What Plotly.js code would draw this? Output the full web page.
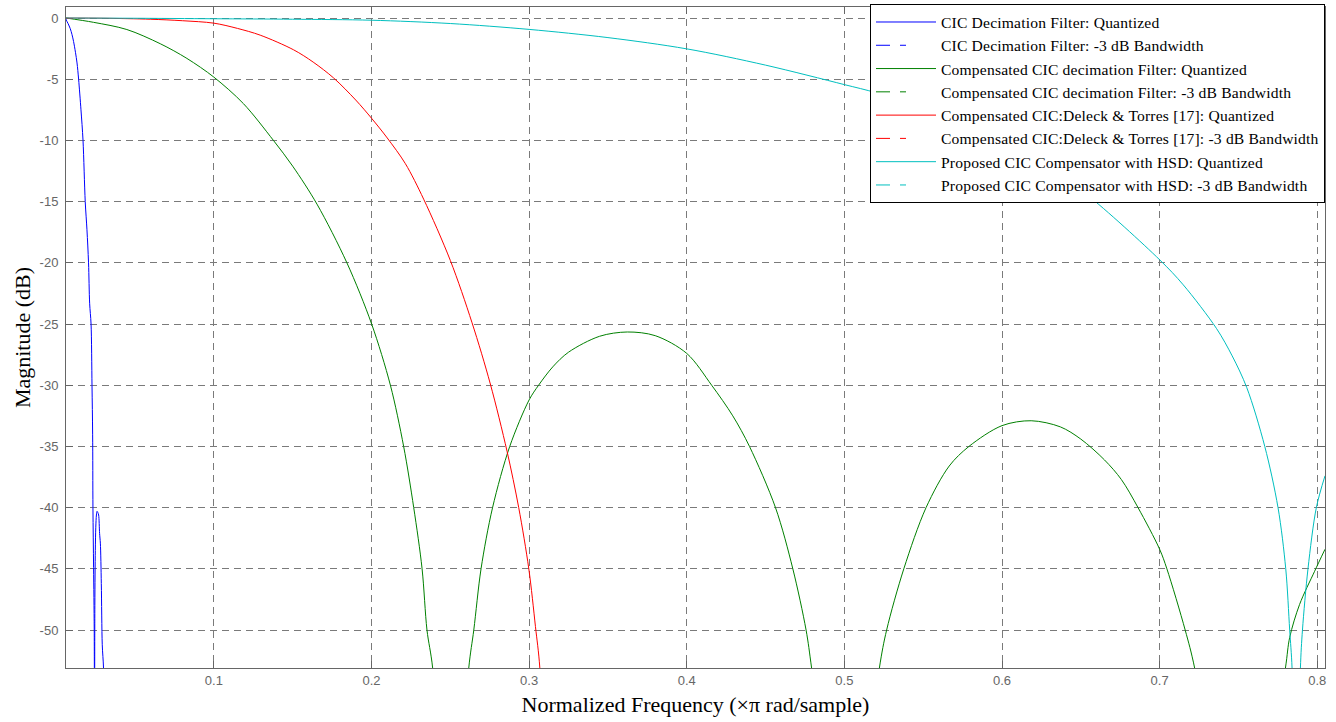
<!DOCTYPE html>
<html>
<head>
<meta charset="utf-8">
<script src="https://cdn.plot.ly/plotly-3.0.1.min.js"></script>
<style>
  html, body { margin: 0; padding: 0; background: #ffffff; }
  #chart { width: 1336px; height: 722px; }
  text.legendtext { letter-spacing: 0.18px; }
</style>
</head>
<body>
<div id="chart"></div>
<script>
// ---- Data ----
// CIC Decimation Filter: Quantized
const cicFreq = [0.0062, 0.0064, 0.0075, 0.0089, 0.0100, 0.0110, 0.0122, 0.0132, 0.0142, 0.0157, 0.0170, 0.0184, 0.0195, 0.0205, 0.0212, 0.0221, 0.0227, 0.0231, 0.0233, 0.0237, 0.0241, 0.0243, 0.0245, 0.0248, 0.0251, 0.0255, 0.0259, 0.0264, 0.0269, 0.0275, 0.0280, 0.0286, 0.0292, 0.0300, 0.0304];
const cicMag  = [0, -0.17, -0.45, -0.87, -1.35, -1.92, -2.8, -3.67, -5, -7.5, -10, -15, -17.3, -20, -23.3, -25, -30, -34, -40, -44.9, -50, -62, -48, -43.5, -41.6, -40.6, -40.3, -40.4, -40.6, -42.1, -42.9, -46.2, -51.2, -53.1, -58];

// Compensated CIC decimation Filter: Quantized
const compFreq = [0.0062, 0.0236, 0.0448, 0.066, 0.0829, 0.1, 0.1188, 0.1378, 0.15, 0.1654, 0.1844, 0.2001, 0.212, 0.2204, 0.2268, 0.2321, 0.2352, 0.2388, 0.25,
  0.2617, 0.2649, 0.2695, 0.2768, 0.2877, 0.3, 0.306, 0.315, 0.325, 0.3447, 0.3623, 0.38, 0.4, 0.4158, 0.4292, 0.4398, 0.4563, 0.4673, 0.4757, 0.4792, 0.501,
  0.5222, 0.5268, 0.5377, 0.5518, 0.5665, 0.579, 0.6, 0.6185, 0.637, 0.65, 0.665, 0.6757, 0.6863, 0.7, 0.7046, 0.7162, 0.7222, 0.751,
  0.7798, 0.7825, 0.7888, 0.7983, 0.8049];
const compMag  = [0, -0.35, -0.94, -2.1, -3.3, -4.83, -7.0, -10, -12.1, -15.2, -20, -25, -30, -35, -40, -45, -50, -53.1, -75,
  -53.1, -50, -45, -40, -35, -31.2, -30, -28.5, -27.3, -26.0, -25.65, -25.95, -27.4, -30, -32.5, -35, -40, -45, -50, -53.1, -75,
  -53.1, -50, -45, -40, -36.6, -35, -33.3, -32.9, -33.4, -34.4, -36.1, -37.7, -40, -43.4, -45, -50, -53.1, -75,
  -53.1, -50.6, -47.9, -45.2, -43.4];

// Compensated CIC: Deleck & Torres [17]: Quantized
const deleckFreq = [0.0062, 0.03, 0.06, 0.08, 0.1, 0.115, 0.1294, 0.1506, 0.163, 0.176, 0.19, 0.2001, 0.21, 0.2215, 0.2331, 0.25, 0.2638, 0.2754, 0.286, 0.2934, 0.2998, 0.304, 0.3068, 0.312];
const deleckMag  = [0, -0.02, -0.1, -0.22, -0.42, -0.85, -1.4, -2.6, -3.6, -4.9, -6.7, -8.2, -9.8, -11.9, -14.8, -19.8, -24.9, -29.9, -35.4, -40, -45, -49.7, -53.1, -70];

// Proposed CIC Compensator with HSD: Quantized
const propFreq = [0.0062, 0.05, 0.1, 0.15, 0.2, 0.25, 0.3, 0.35, 0.4, 0.45, 0.5, 0.52, 0.55, 0.6, 0.63, 0.6536, 0.7, 0.715, 0.736, 0.746, 0.7553, 0.7667, 0.7751, 0.7800, 0.7825, 0.7840, 0.7866, 0.7893, 0.7906, 0.7941, 0.7994, 0.8049];
const propMag  = [0, -0.02, -0.06, -0.1, -0.18, -0.45, -0.93, -1.6, -2.52, -3.85, -5.44, -6.1, -7.4, -10.2, -12.3, -14.4, -19.75, -21.8, -25.35, -27.6, -30.2, -35, -40, -45, -50, -53.1, -70, -53.1, -50, -45, -40, -37.4];

// -3 dB bandwidth series (no mark visible inside the plotted window)
const cicBw3dB    = [null];
const compBw3dB   = [null];
const deleckBw3dB = [null];
const propBw3dB   = [null];

// Tick labels
const xTickVals = [0.1, 0.2, 0.3, 0.4, 0.5, 0.6, 0.7, 0.8];
const xTickText = ['0.1', '0.2', '0.3', '0.4', '0.5', '0.6', '0.7', '0.8'];
const yTickVals = [0, -5, -10, -15, -20, -25, -30, -35, -40, -45, -50];
const yTickText = ['0', '-5', '-10', '-15', '-20', '-25', '-30', '-35', '-40', '-45', '-50'];

const names = [
  'CIC Decimation Filter: Quantized',
  'CIC Decimation Filter: -3 dB Bandwidth',
  'Compensated CIC decimation Filter: Quantized',
  'Compensated CIC decimation Filter: -3 dB Bandwidth',
  'Compensated CIC:Deleck &amp; Torres [17]: Quantized',
  'Compensated CIC:Deleck &amp; Torres [17]: -3 dB Bandwidth',
  'Proposed CIC Compensator with HSD: Quantized',
  'Proposed CIC Compensator with HSD: -3 dB Bandwidth'
];

const BLUE = '#0000ff', GREEN = '#008000', RED = '#ff0000', CYAN = '#00bfbf';
const DASH = '14px,10px,6px,100px';

function tr(x, y, name, color, dash, g) {
  return {
    type: 'scatter', mode: 'lines', x: x, y: y, name: name,
    legendgroup: 'g' + g,
    line: { color: color, width: 1, dash: dash, shape: 'spline', smoothing: 0.9 },
    hoverinfo: 'skip', cliponaxis: true
  };
}

const data = [
  tr(cicFreq, cicMag, names[0], BLUE, 'solid', 0),
  tr(cicBw3dB, cicBw3dB, names[1], BLUE, DASH, 1),
  tr(compFreq, compMag, names[2], GREEN, 'solid', 2),
  tr(compBw3dB, compBw3dB, names[3], GREEN, DASH, 3),
  tr(deleckFreq, deleckMag, names[4], RED, 'solid', 4),
  tr(deleckBw3dB, deleckBw3dB, names[5], RED, DASH, 5),
  tr(propFreq, propMag, names[6], CYAN, 'solid', 6),
  tr(propBw3dB, propBw3dB, names[7], CYAN, DASH, 7)
];

const axisCommon = {
  showline: true, linecolor: '#666666', linewidth: 1, mirror: 'ticks',
  ticks: 'inside', ticklen: 7, tickcolor: '#666666', tickwidth: 1,
  showgrid: true, gridcolor: '#7a7a7a', gridwidth: 1, griddash: '7px,5px',
  zeroline: false, automargin: false,
  tickfont: { family: '"Liberation Sans", Arial, sans-serif', size: 13, color: '#666666' },
  tickmode: 'array'
};

const layout = {
  width: 1336, height: 722,
  margin: { l: 66, r: 11, t: 7, b: 54, pad: 0, autoexpand: false },
  paper_bgcolor: '#ffffff', plot_bgcolor: '#ffffff',
  showlegend: true,
  xaxis: Object.assign({}, axisCommon, {
    range: [0.0062, 0.8049],
    tickvals: xTickVals, ticktext: xTickText,
    title: { text: 'Normalized Frequency (×π rad/sample)', standoff: 10,
      font: { family: '"Liberation Serif", "Times New Roman", serif', size: 22, color: '#000000' } }
  }),
  yaxis: Object.assign({}, axisCommon, {
    range: [-53.1, 0.9],
    tickvals: yTickVals, ticktext: yTickText,
    ticklabelstandoff: 4,
    title: { text: 'Magnitude (dB)', standoff: 2,
      font: { family: '"Liberation Serif", "Times New Roman", serif', size: 22, color: '#000000' } }
  }),
  legend: {
    x: 1, xanchor: 'right', y: 1.004, yanchor: 'top',
    bgcolor: '#ffffff', bordercolor: '#000000', borderwidth: 1,
    font: { family: '"Liberation Serif", "Times New Roman", serif', size: 15.6, color: '#000000' },
    tracegroupgap: 0, traceorder: 'grouped',
    itemwidth: 60
  }
};

Plotly.newPlot('chart', data, layout, { staticPlot: true, displayModeBar: false });
</script>
</body>
</html>
